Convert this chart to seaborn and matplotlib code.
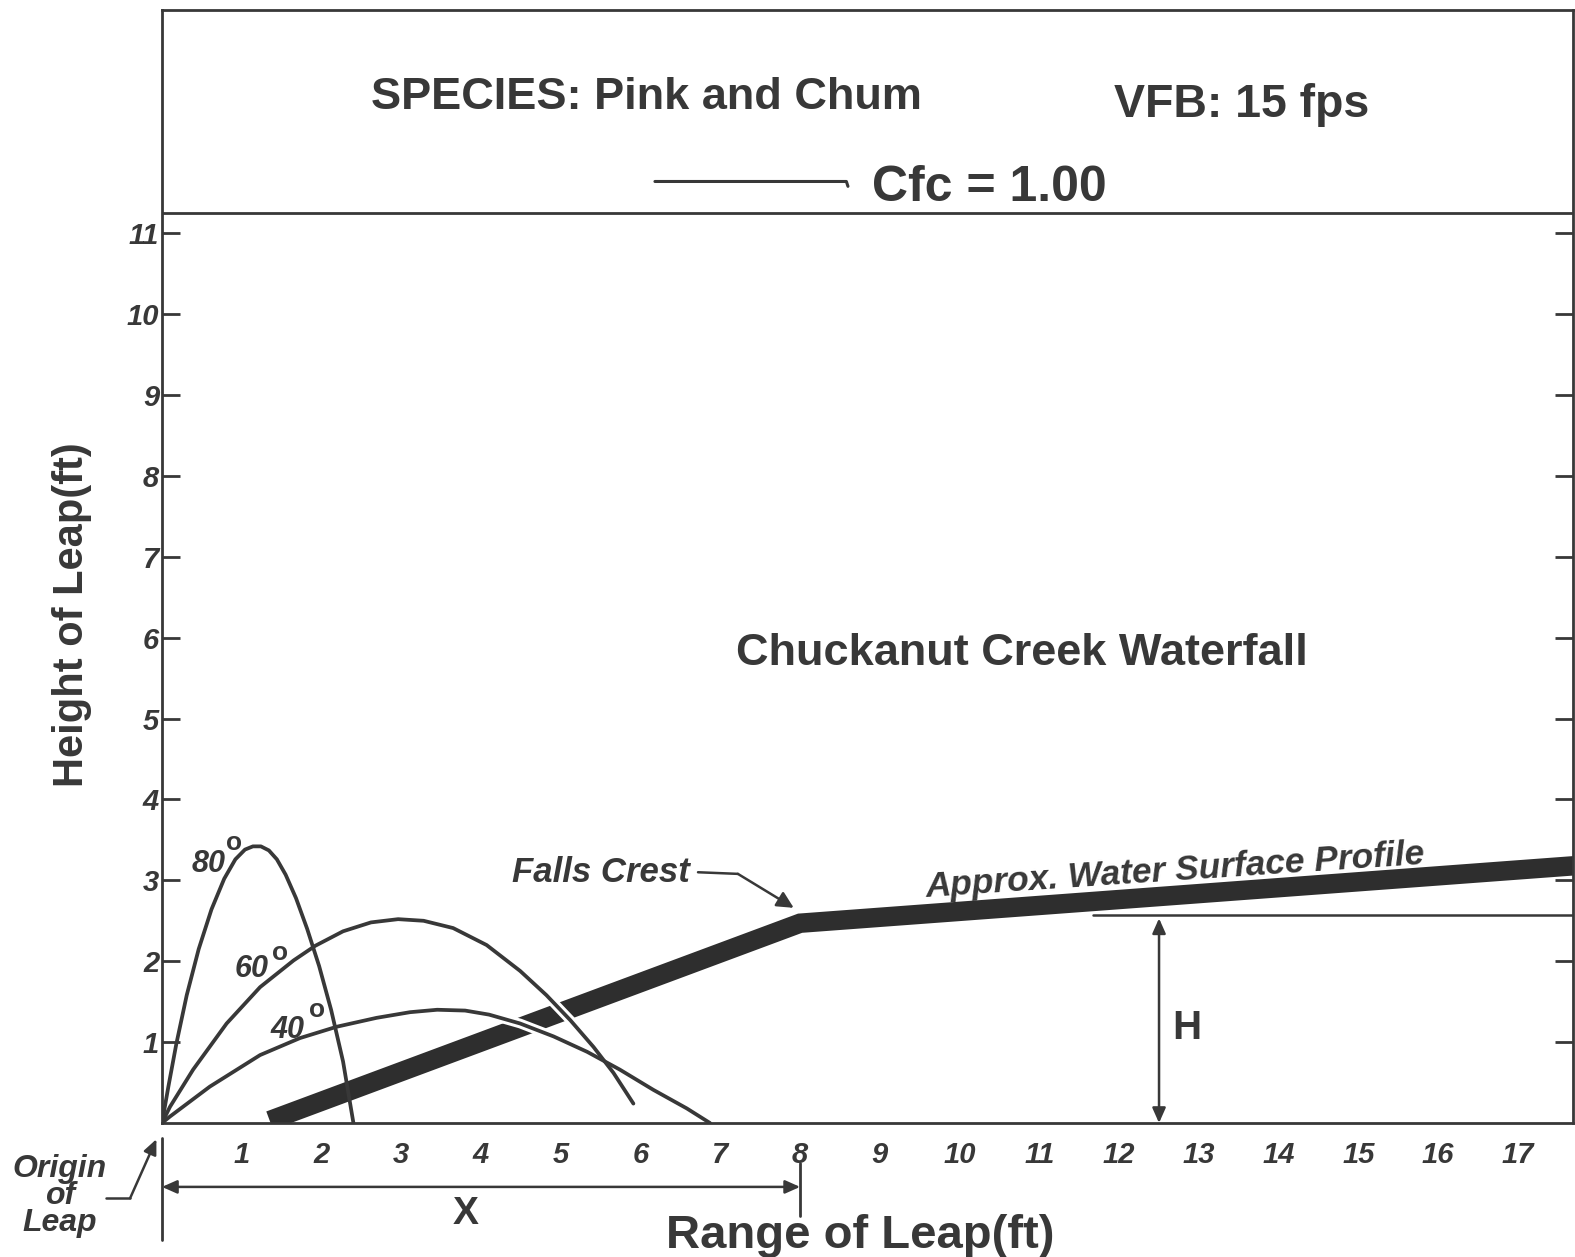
import matplotlib
matplotlib.use("Agg")
import matplotlib.pyplot as plt
import seaborn as sns

# Leap trajectories: range of leap (ft) vs height of leap (ft)
x80 = [0.0, 0.08, 0.18, 0.31, 0.46, 0.62, 0.78, 0.92, 1.04, 1.14, 1.24, 1.34, 1.44, 1.55, 1.68, 1.82, 1.97, 2.12, 2.27, 2.40]
y80 = [0.0, 0.45, 0.98, 1.58, 2.15, 2.64, 3.02, 3.26, 3.38, 3.42, 3.42, 3.37, 3.26, 3.07, 2.78, 2.40, 1.94, 1.40, 0.76, 0.0]

x60 = [0.0, 0.10, 0.39, 0.81, 1.23, 1.65, 1.92, 2.27, 2.62, 2.96, 3.28, 3.65, 4.07, 4.49, 4.82, 5.12, 5.41, 5.66, 5.91]
y60 = [0.0, 0.20, 0.66, 1.23, 1.68, 2.01, 2.19, 2.37, 2.48, 2.52, 2.50, 2.41, 2.20, 1.88, 1.58, 1.27, 0.94, 0.62, 0.24]

x40 = [0.0, 0.10, 0.60, 1.23, 1.73, 2.19, 2.69, 3.11, 3.45, 3.80, 4.10, 4.49, 4.91, 5.33, 5.74, 6.16, 6.58, 6.87]
y40 = [0.0, 0.08, 0.45, 0.84, 1.05, 1.19, 1.30, 1.37, 1.40, 1.39, 1.34, 1.23, 1.07, 0.88, 0.66, 0.41, 0.18, 0.0]

angle_labels = ["80", "60", "40"]

# Approximate water surface profile through the falls crest
profile_x = [1.35, 8.0, 17.7]
profile_y = [0.03, 2.47, 3.18]

crest_x = 8.0
crest_height = 2.55
h_arrow_x = 12.5

x_ticks = list(range(1, 18))
y_ticks = list(range(1, 12))

ink = "#383838"

sns.set_style("white")
plt.rcParams["font.family"] = ["Liberation Sans", "DejaVu Sans"]
plt.rcParams["font.weight"] = "bold"

fig = plt.figure(figsize=(15.75, 12.57), dpi=100)
ax = fig.add_axes([162 / 1575, 134 / 1257, (1573 - 162) / 1575, (1123 - 10) / 1257])
ax.set_xlim(0, 17.69)
ax.set_ylim(0, 13.76)

# water surface band
sns.lineplot(x=profile_x, y=profile_y, sort=False, estimator=None, ax=ax,
             color="#2e2e2e", lw=14, solid_capstyle="butt", solid_joinstyle="miter", zorder=2.2)

# white edging where the flatter leaps pass over the band
for xs, ys in [(x60, y60), (x40, y40)]:
    sns.lineplot(x=xs, y=ys, sort=False, estimator=None, ax=ax,
                 color="white", lw=7, zorder=2.3)

for xs, ys in [(x80, y80), (x60, y60), (x40, y40)]:
    sns.lineplot(x=xs, y=ys, sort=False, estimator=None, ax=ax,
                 color=ink, lw=2.7, zorder=3, solid_joinstyle="round")

# angle labels
label_pos = [(0.59, 3.20), (1.12, 1.90), (1.57, 1.15)]
sup_pos = [(0.90, 3.46), (1.48, 2.10), (1.94, 1.40)]
for lab, (lx, ly), (sx, sy) in zip(angle_labels, label_pos, sup_pos):
    ax.text(lx, ly, lab, ha="center", va="center", fontsize=22, fontstyle="italic",
            fontweight="bold", color=ink)
    ax.text(sx, sy, "o", ha="center", va="center", fontsize=19, fontweight="bold", color=ink)

# axes styling
for side in ["left", "bottom", "top", "right"]:
    ax.spines[side].set_color(ink)
    ax.spines[side].set_linewidth(2.0)

ax.set_xticks(x_ticks)
ax.set_xticklabels([str(t) for t in x_ticks], fontsize=21, fontstyle="italic", fontweight="bold", color=ink)
ax.set_yticks(y_ticks)
ax.set_yticklabels([str(t) for t in y_ticks], fontsize=21, fontstyle="italic", fontweight="bold", color=ink)
ax.tick_params(axis="x", direction="in", length=18, width=2, color=ink, pad=13)
ax.tick_params(axis="y", direction="in", length=13, width=2, color=ink, pad=2,
               left=True, right=True, labelright=False)

ax.set_xlabel("Range of Leap(ft)", fontsize=34, fontweight="bold", color=ink)
ax.xaxis.set_label_coords((860 - 162) / 1411, -(1214 - 1123) / 1113)
ax.set_ylabel("Height of Leap(ft)", fontsize=30, fontweight="bold", color=ink)
ax.yaxis.set_label_coords(-(162 - 92) / 1411, (1123 - 615) / 1113)

# header panel
ax.axhline(11.25, color=ink, lw=2.0)
ax.text(6.07, 12.68, "SPECIES: Pink and Chum", ha="center", va="center", fontsize=32.5,
        fontweight="bold", color=ink)
ax.text(13.53, 12.58, "VFB: 15 fps", ha="center", va="center", fontsize=33.5,
        fontweight="bold", color=ink)
ax.plot([6.18, 8.58, 8.6], [11.64, 11.64, 11.58], color=ink, lw=2.2)
ax.text(8.9, 11.56, "Cfc = 1.00", ha="left", va="center", fontsize=36,
        fontweight="bold", color=ink)

ax.text(10.78, 5.80, "Chuckanut Creek Waterfall", ha="center", va="center", fontsize=32.5,
        fontweight="bold", color=ink)

# falls crest pointer
ax.text(6.62, 3.10, "Falls Crest", ha="right", va="center", fontsize=25,
        fontstyle="italic", fontweight="bold", color=ink)
ax.plot([6.72, 7.22], [3.10, 3.08], color=ink, lw=1.8)
ax.annotate("", xy=(7.92, 2.66), xytext=(7.22, 3.08),
            arrowprops=dict(arrowstyle="-|>,head_length=1.0,head_width=0.5",
                            color=ink, lw=1.8, shrinkA=0, shrinkB=0))

ax.text(12.70, 3.12, "Approx. Water Surface Profile", ha="center", va="center",
        rotation=3.8, rotation_mode="anchor", fontsize=25.5, fontstyle="italic",
        fontweight="bold", color=ink)

# crest height H
ax.plot([11.67, 17.69], [2.57, 2.57], color=ink, lw=1.8)
ax.annotate("", xy=(h_arrow_x, 0.0), xytext=(h_arrow_x, crest_height - 0.02),
            arrowprops=dict(arrowstyle="<|-|>,head_length=0.9,head_width=0.4",
                            color=ink, lw=1.8, shrinkA=0, shrinkB=0))
ax.text(12.85, 1.17, "H", ha="center", va="center", fontsize=29, fontweight="bold", color=ink)

# horizontal range X to the crest
ax.plot([0, 0], [-0.18, -1.45], color=ink, lw=2.0, clip_on=False)
ax.plot([crest_x, crest_x], [-0.50, -1.15], color=ink, lw=2.0, clip_on=False)
ax.annotate("", xy=(0.0, -0.79), xytext=(crest_x, -0.79), annotation_clip=False,
            arrowprops=dict(arrowstyle="<|-|>,head_length=0.9,head_width=0.4",
                            color=ink, lw=1.8, shrinkA=0, shrinkB=0))
ax.text(3.81, -1.13, "X", ha="center", va="center", fontsize=28, fontweight="bold",
        color=ink, clip_on=False)

# origin of leap
ax.text(-1.28, -0.90, "Origin\nof\nLeap", ha="center", va="center", fontsize=23,
        fontstyle="italic", fontweight="bold", color=ink, linespacing=0.88)
ax.plot([-0.70, -0.40], [-0.93, -0.93], color=ink, lw=1.8, clip_on=False)
ax.annotate("", xy=(-0.07, -0.20), xytext=(-0.40, -0.93), annotation_clip=False,
            arrowprops=dict(arrowstyle="-|>,head_length=0.9,head_width=0.4",
                            color=ink, lw=1.8, shrinkA=0, shrinkB=0))

fig.savefig("out.png", dpi=100, facecolor="white")
